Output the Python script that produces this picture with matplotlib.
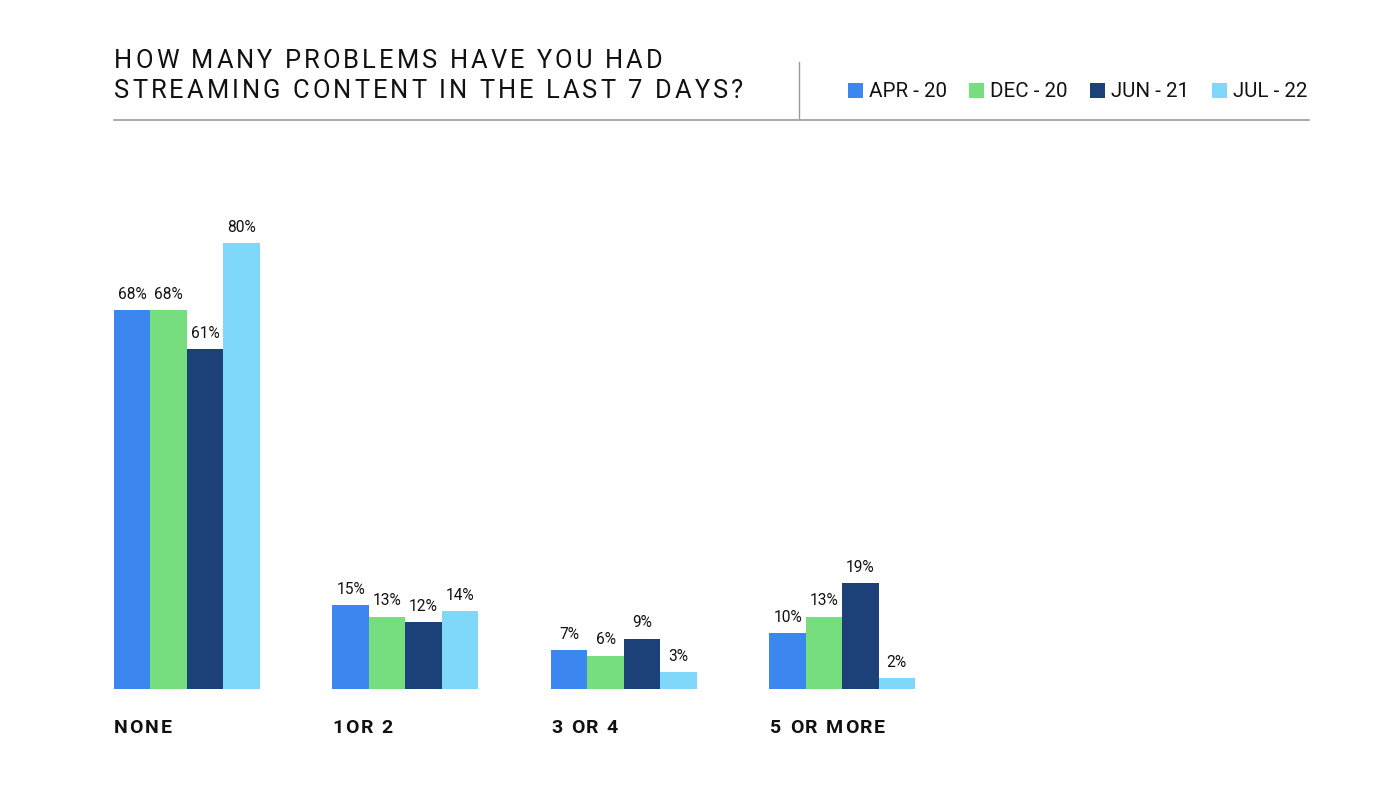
import matplotlib
matplotlib.use("Agg")
import matplotlib.pyplot as plt
from matplotlib.patches import Rectangle
from matplotlib.lines import Line2D
from matplotlib.font_manager import FontProperties, findfont, get_font

plt.rcParams['font.family'] = ['Roboto', 'DejaVu Sans']

categories = ["NONE", "1OR 2", "3 OR 4", "5 OR MORE"]
series = ["APR - 20", "DEC - 20", "JUN - 21", "JUL - 22"]
apr20 = [68, 15, 7, 10]
dec20 = [68, 13, 6, 13]
jun21 = [61, 12, 9, 19]
jul22 = [80, 14, 3, 2]
colors = ["#3B86EF", "#77DE80", "#1C4078", "#7FD7FA"]
title_lines = ["HOW MANY PROBLEMS HAVE YOU HAD", "STREAMING CONTENT IN THE LAST 7 DAYS?"]

W, H = 1376, 786
DPI = 100
fig = plt.figure(figsize=(W / DPI, H / DPI), dpi=DPI)


def fx(px):
    return px / W


def fy(py):
    return 1 - py / H


def advances(s, size, weight="normal"):
    prop = FontProperties(family="Roboto", weight=weight)
    font = get_font(findfont(prop))
    font.set_size(size, DPI)
    out = []
    for ch in s:
        g = font.load_char(ord(ch))
        out.append(g.linearHoriAdvance / 65536)
    return out


def tracked_text(x_px, base_px, s, size, track, weight="normal", color="#111111"):
    adv = advances(s, size, weight)
    x = x_px
    for ch, a in zip(s, adv):
        if ch != " ":
            fig.text(fx(x), fy(base_px), ch, ha="left", va="baseline",
                     fontsize=size, fontweight=weight, color=color)
        x += a + track


# axes: x from 114 to 915 px (0..22 units), y baseline 689, 80% at 243
ax = fig.add_axes([fx(114), fy(689), fx(915) - fx(114), (689 - 243) / H])
ax.set_xlim(0, 22)
ax.set_ylim(0, 80)
ax.axis("off")

data = [apr20, dec20, jun21, jul22]
period = 6
for s, (vals, col) in enumerate(zip(data, colors)):
    xs = [i * period + s for i in range(len(categories))]
    ax.bar(xs, vals, width=1.0, align="edge", color=col, linewidth=0)
    for x, v in zip(xs, vals):
        ax.annotate(f"{v}%", (x + 0.5, v), xytext=(0, 6), textcoords="offset points",
                    ha="center", va="bottom", fontsize=11.2, color="#111111",
                    annotation_clip=False)

# category labels (letter spaced)
cat_left = [114, 332, 551, 770]
for xl, c in zip(cat_left, categories):
    tracked_text(xl, 733, c, 14, 1.8, weight="bold", color="#111111")

# title (letter spaced)
tracked_text(114, 68.5, title_lines[0], 18.4, 3.05, color="#111111")
tracked_text(114, 97.5, title_lines[1], 18.4, 3.05, color="#111111")

# rules
fig.add_artist(Line2D([fx(114), fx(1309)], [fy(120), fy(120)], color="#9a9a9a", lw=1.2))
fig.add_artist(Line2D([fx(799), fx(799)], [fy(62), fy(118)], color="#9a9a9a", lw=1.0))

# legend
leg_x = [848, 969, 1090, 1212]
for lx, name, col in zip(leg_x, series, colors):
    fig.add_artist(Rectangle((fx(lx), fy(98)), 15 / W, 15 / H, color=col, lw=0))
    fig.text(fx(lx + 21), fy(97), name, ha="left", va="baseline", fontsize=14.8,
             color="#111111")

fig.savefig("out.png", dpi=DPI)
